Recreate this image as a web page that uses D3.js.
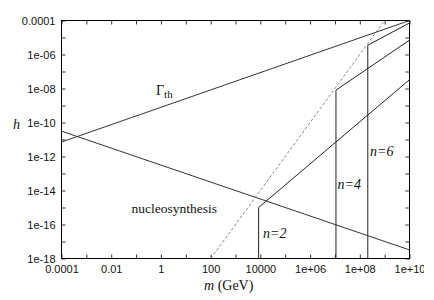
<!DOCTYPE html>
<html>
<head>
<meta charset="utf-8">
<script src="https://cdn.jsdelivr.net/npm/d3@7"></script>
<style>
  html, body { margin: 0; padding: 0; background: #fff; }
  svg { display: block; }
</style>
</head>
<body>
<svg id="chart" width="424" height="300"></svg>
<script>
// ---- data ----
const xTickValues = [1e-4, 1e-2, 1, 1e2, 1e4, 1e6, 1e8, 1e10];
const xTickLabels = ["0.0001", "0.01", "1", "100", "10000", "1e+06", "1e+08", "1e+10"];
const yTickValues = [1e-18, 1e-16, 1e-14, 1e-12, 1e-10, 1e-8, 1e-6, 1e-4];
const yTickLabels = ["1e-18", "1e-16", "1e-14", "1e-12", "1e-10", "1e-08", "1e-06", "0.0001"];

// Gamma_th line
const gammaM = [1e-4, 1e10];
const gammaH = [7.1e-12, 1e-4];
// nucleosynthesis line
const nucleoM = [1e-4, 1e10];
const nucleoH = [3.1e-11, 3.2e-18];
// dashed line
const dashM = [1e2, 1e9];
const dashH = [1e-18, 1e-4];
// n = 2 bound
const n2M = [8500, 8500, 1e10];
const n2H = [1e-18, 1e-15, 3.3e-8];
// n = 4 bound
const n4M = [1.1e7, 1.1e7, 1e10];
const n4H = [1e-18, 8e-9, 7e-6];
// n = 6 bound
const n6M = [2.1e8, 2.1e8, 1e10];
const n6H = [1e-18, 3.5e-6, 7.2e-5];

// ---- layout ----
const svg = d3.select("#chart");
const L = 61.5, R = 409.5, T = 20.5, B = 258.5;
const x = d3.scaleLog().domain([1e-4, 1e10]).range([L, R]);
const y = d3.scaleLog().domain([1e-18, 1e-4]).range([B, T]);

const allDecadesX = d3.range(-4, 11).map(e => Math.pow(10, e));
const allDecadesY = d3.range(-18, -3).map(e => Math.pow(10, e));

const tickFont = "'Liberation Sans', Arial, Helvetica, sans-serif";
const serif = "'Liberation Serif', 'Times New Roman', serif";

// ticks (inward, all sides)
const tl = 4;
const axB = d3.axisBottom(x).tickValues(allDecadesX).tickSizeInner(-tl).tickSizeOuter(0).tickFormat("");
const axT = d3.axisTop(x).tickValues(allDecadesX).tickSizeInner(-tl).tickSizeOuter(0).tickFormat("");
const axL = d3.axisLeft(y).tickValues(allDecadesY).tickSizeInner(-tl).tickSizeOuter(0).tickFormat("");
const axR = d3.axisRight(y).tickValues(allDecadesY).tickSizeInner(-tl).tickSizeOuter(0).tickFormat("");
svg.append("g").attr("transform", `translate(0,${B})`).call(axB);
svg.append("g").attr("transform", `translate(0,${T})`).call(axT);
svg.append("g").attr("transform", `translate(${L},0)`).call(axL);
svg.append("g").attr("transform", `translate(${R},0)`).call(axR);
svg.selectAll(".domain").remove();
svg.selectAll(".tick line").attr("stroke", "#333");

// frame
svg.append("rect").attr("x", L).attr("y", T).attr("width", R - L).attr("height", B - T)
  .attr("fill", "none").attr("stroke", "#000").attr("stroke-width", 1);

// tick labels
const xl = d3.axisBottom(x).tickValues(xTickValues).tickSize(0).tickPadding(7)
  .tickFormat((d, i) => xTickLabels[i]);
const gxl = svg.append("g").attr("transform", `translate(0,${B})`).call(xl);
gxl.select(".domain").remove();
gxl.selectAll("text").attr("font-family", tickFont).attr("font-size", 11).attr("fill", "#111");

const yl = d3.axisLeft(y).tickValues(yTickValues).tickSize(0).tickPadding(6)
  .tickFormat((d, i) => yTickLabels[i]);
const gyl = svg.append("g").attr("transform", `translate(${L},0)`).call(yl);
gyl.select(".domain").remove();
gyl.selectAll("text").attr("font-family", tickFont).attr("font-size", 11).attr("fill", "#111");

// lines
const line = d3.line().x(d => x(d[0])).y(d => y(d[1]));
const zip = (a, b) => a.map((v, i) => [v, b[i]]);
const plot = svg.append("g");
function draw(ms, hs, dash, color, w) {
  plot.append("path").attr("d", line(zip(ms, hs)))
    .attr("fill", "none").attr("stroke", color).attr("stroke-width", w)
    .attr("stroke-dasharray", dash || null);
}
draw(gammaM, gammaH, null, "#333", 1);
draw(nucleoM, nucleoH, null, "#333", 1);
draw(dashM, dashH, "3,2", "#555", 0.7);
draw(n2M, n2H, null, "#222", 1);
draw(n4M, n4H, null, "#222", 1);
draw(n6M, n6H, null, "#222", 1);

// annotations
const g = svg.append("text").attr("x", 156).attr("y", 95)
  .attr("font-family", serif).attr("font-size", 14).attr("fill", "#111");
g.append("tspan").text("Γ");
g.append("tspan").attr("dy", 3).attr("font-size", 11).text("th");

svg.append("text").attr("x", 131.5).attr("y", 213).text("nucleosynthesis")
  .attr("font-family", serif).attr("font-size", 13.5).attr("fill", "#111");

function nLabel(px, py, k) {
  const t = svg.append("text").attr("x", px).attr("y", py)
    .attr("font-family", serif).attr("font-size", 14).attr("font-style", "italic").attr("fill", "#111");
  t.append("tspan").text("n");
  t.append("tspan").text("=" + k);
}
nLabel(263, 238, 2);
nLabel(337.5, 189, 4);
nLabel(370, 156, 6);

// axis titles
svg.append("text").attr("x", 13).attr("y", 129).text("h")
  .attr("font-family", serif).attr("font-size", 14).attr("font-style", "italic").attr("fill", "#111");
const mt = svg.append("text").attr("x", 204).attr("y", 290)
  .attr("font-family", serif).attr("font-size", 14).attr("fill", "#111");
mt.append("tspan").attr("font-style", "italic").text("m");
mt.append("tspan").text(" (GeV)");
</script>
</body>
</html>
